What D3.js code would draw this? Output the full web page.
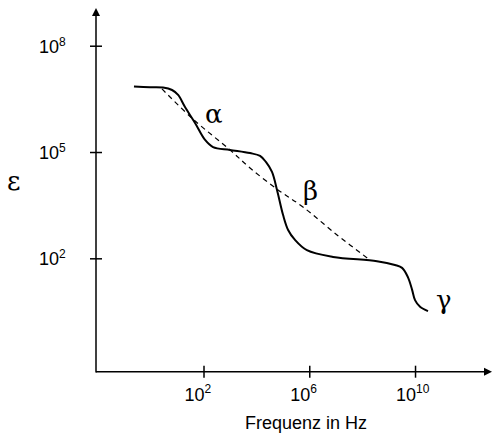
<!DOCTYPE html>
<html>
<head>
<meta charset="utf-8">
<script src="https://cdn.jsdelivr.net/npm/d3@7"></script>
<style>
  body { margin: 0; background: #fff; }
  svg { display: block; }
</style>
</head>
<body>
<svg id="drawing_region"></svg>
<script>
// exponents (log10)
const curveLogF   = [-0.63, -0.02, 0.47, 0.81, 1.04, 1.30, 1.68, 2.06, 2.36, 3.00, 3.76, 4.14, 4.36, 4.59, 4.78, 5.01, 5.20, 5.46, 5.91, 6.90, 8.56, 9.24, 9.51, 9.73, 9.89, 10.0, 10.19, 10.49];
const curveLogEps = [6.85, 6.83, 6.82, 6.75, 6.61, 6.27, 5.82, 5.34, 5.14, 5.06, 4.97, 4.89, 4.72, 4.44, 3.93, 3.22, 2.80, 2.52, 2.23, 2.04, 1.92, 1.81, 1.73, 1.47, 1.11, 0.82, 0.63, 0.51];
const dashLogF    = [0.43, 1.60, 3.00, 3.76, 4.82, 5.76, 7.05, 8.30];
const dashLogEps  = [6.78, 5.93, 5.06, 4.55, 3.93, 3.45, 2.66, 1.95];
const xTickExp = [2, 6, 10];
const yTickExp = [2, 5, 8];
const peakLabels = ['α', 'β', 'γ'];
const peakLogF   = [2.06, 5.76, 10.79];
const peakLogEps = [5.82, 3.65, 0.57];

const config = {
    parent: '#drawing_region',
    width: 492,
    height: 437
};

const svg = d3.select(config.parent)
    .attr('width', config.width)
    .attr('height', config.height);

const x = d3.scaleLog()
    .domain([Math.pow(10, -2.066), Math.pow(10, 12.911)])
    .range([96, 492]);
const y = d3.scaleLog()
    .domain([Math.pow(10, -1.2), Math.pow(10, 9.008)])
    .range([371.7, 10]);

const x0 = x.range()[0], y0 = y.range()[0];

// axes
const xAxis = d3.axisBottom(x)
    .tickValues(xTickExp.map(e => Math.pow(10, e)))
    .tickSize(6)
    .tickFormat('');
const gx = svg.append('g')
    .attr('transform', `translate(0,${y0})`)
    .call(xAxis);
gx.select('.domain').remove();
gx.selectAll('.tick line').attr('y1', -6).attr('y2', 6)
    .attr('stroke', '#000').attr('stroke-width', 1.5);

const yAxis = d3.axisLeft(y)
    .tickValues(yTickExp.map(e => Math.pow(10, e)))
    .tickSize(6)
    .tickFormat('');
const gy = svg.append('g')
    .attr('transform', `translate(${x0},0)`)
    .call(yAxis);
gy.select('.domain').remove();
gy.selectAll('.tick line').attr('x1', -6).attr('x2', 6)
    .attr('stroke', '#000').attr('stroke-width', 1.5);

// axis lines with arrow heads
svg.append('line')
    .attr('x1', x0).attr('y1', y0).attr('x2', 486).attr('y2', y0)
    .attr('stroke', '#000').attr('stroke-width', 1.5);
svg.append('path')
    .attr('d', `M492,${y0} L484,${y0 - 4} L484,${y0 + 4} Z`)
    .attr('fill', '#000');
svg.append('line')
    .attr('x1', x0).attr('y1', y0 + 0.75).attr('x2', x0).attr('y2', 14)
    .attr('stroke', '#000').attr('stroke-width', 1.5);
svg.append('path')
    .attr('d', `M${x0},8 L${x0 - 4},16 L${x0 + 4},16 Z`)
    .attr('fill', '#000');

// tick labels 10^n
const font = "'Liberation Sans', Arial, sans-serif";
const serif = "'DejaVu Serif', 'Liberation Serif', serif";
xTickExp.forEach(e => {
    const px = x(Math.pow(10, e));
    svg.append('text')
        .attr('x', px + 1).attr('y', 400.5)
        .attr('text-anchor', 'end')
        .attr('font-family', font).attr('font-size', 18)
        .text('10');
    svg.append('text')
        .attr('x', px + 1).attr('y', 393)
        .attr('font-family', font).attr('font-size', 12)
        .text(e);
});
yTickExp.forEach(e => {
    const py = y(Math.pow(10, e));
    svg.append('text')
        .attr('x', 59).attr('y', py + 7)
        .attr('text-anchor', 'end')
        .attr('font-family', font).attr('font-size', 18)
        .text('10');
    svg.append('text')
        .attr('x', 59).attr('y', py)
        .attr('font-family', font).attr('font-size', 12)
        .text(e);
});

// axis titles
svg.append('text')
    .attr('x', 306).attr('y', 429)
    .attr('text-anchor', 'middle')
    .attr('font-family', font).attr('font-size', 18)
    .text('Frequenz in Hz');
svg.append('text')
    .attr('x', 7).attr('y', 190)
    .attr('font-family', serif).attr('font-size', 26)
    .text('ε');

// curves
const line = d3.line()
    .x(d => x(Math.pow(10, d[0])))
    .y(d => y(Math.pow(10, d[1])))
    .curve(d3.curveCatmullRom.alpha(0.5));

svg.append('path')
    .datum(d3.zip(dashLogF, dashLogEps))
    .attr('d', line)
    .attr('fill', 'none')
    .attr('stroke', '#000')
    .attr('stroke-width', 1.2)
    .attr('stroke-dasharray', '5,4');

svg.append('path')
    .datum(d3.zip(curveLogF, curveLogEps))
    .attr('d', line)
    .attr('fill', 'none')
    .attr('stroke', '#000')
    .attr('stroke-width', 2);

// α β γ
svg.selectAll('.peak')
    .data(peakLabels)
    .enter()
    .append('text')
    .attr('class', 'peak')
    .attr('x', (d, i) => x(Math.pow(10, peakLogF[i])))
    .attr('y', (d, i) => y(Math.pow(10, peakLogEps[i])))
    .attr('font-family', serif)
    .attr('font-size', 26)
    .text(d => d);
</script>
</body>
</html>
